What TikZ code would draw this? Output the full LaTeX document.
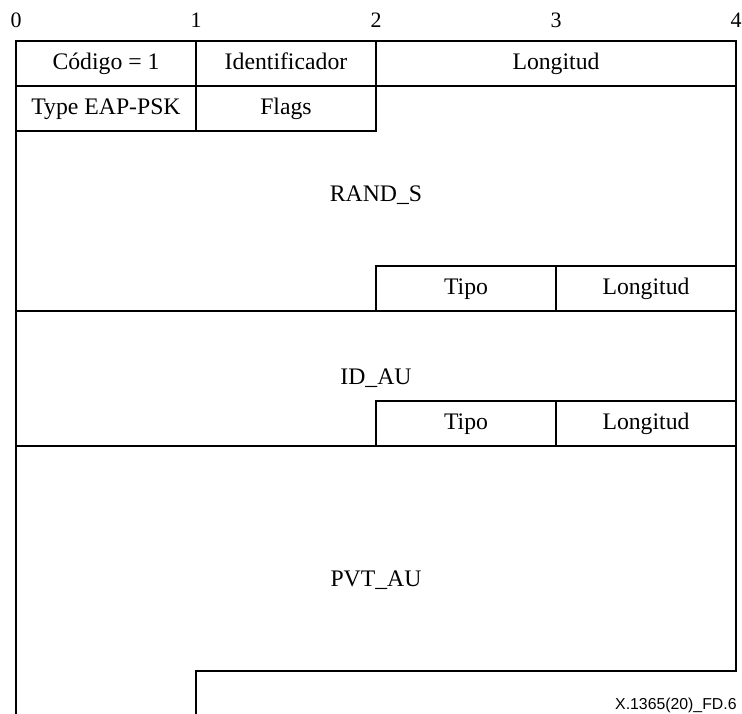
\documentclass[tikz,border=0pt]{standalone}
\usepackage{fontspec}
\setmainfont{Liberation Serif}
\newfontfamily\figsans{Liberation Sans}
\begin{document}
\begin{tikzpicture}[
  x=3.6cm, y=-0.9cm,
  %% Field labels inside the frame (same box height, so descenders don't shift them)
  field/.style={font=\fontsize{13.5}{16}\selectfont, inner sep=0pt,
                text height=9.4pt, text depth=3pt},
  %% Octet ruler above the frame
  ruler/.style={font=\fontsize{12.5}{15}\selectfont, inner sep=0pt},
  %% Figure identifier, bottom right
  figid/.style={font=\figsans\fontsize{9}{11}\selectfont, inner sep=0pt, anchor=east},
  %% Frame and field lines
  frame/.style={line width=0.8pt}
]
\useasboundingbox (-0.32cm,0.82cm) rectangle (14.52cm,-13.44cm);

%% ── Octet ruler: 0 … 4 over the column lines ─────────────────────────
\foreach \n in {0,...,4}
  \node[ruler] (oct\n) at (\n,-0.47) {\n};

%% ── Outer frame: open at the bottom, stepped in at column 1 ──────────
\draw[frame] (0,14.95) -- (0,0) -- (4,0) -- (4,14) -- (1,14) -- (1,14.95);

%% ── Header: two rows of fields ───────────────────────────────────────
\draw[frame] (0,1) -- (4,1);
\draw[frame] (0,2) -- (2,2) -- (2,0);
\draw[frame] (1,0) -- (1,2);

\node[field] (codigo) at (0.5,0.5) {Código = 1};
\node[field] (ident)  at (1.5,0.5) {Identificador};
\node[field] (longh)  at (3,0.5)   {Longitud};
\node[field] (type)   at (0.5,1.5) {Type EAP-PSK};
\node[field] (flags)  at (1.5,1.5) {Flags};

%% ── RAND_S with its Tipo / Longitud trailer ──────────────────────────
\node[field] (rands) at (2,3.45) {RAND\_S};
\draw[frame] (2,6) -- (2,5) -- (4,5);
\draw[frame] (3,5) -- (3,6);
\draw[frame] (0,6) -- (4,6);
\node[field] (tipoa) at (2.5,5.5) {Tipo};
\node[field] (longa) at (3.5,5.5) {Longitud};

%% ── ID_AU with its Tipo / Longitud trailer ───────────────────────────
\node[field] (idau) at (2,7.5) {ID\_AU};
\draw[frame] (2,9) -- (2,8) -- (4,8);
\draw[frame] (3,8) -- (3,9);
\draw[frame] (0,9) -- (4,9);
\node[field] (tipob) at (2.5,8.5) {Tipo};
\node[field] (longb) at (3.5,8.5) {Longitud};

%% ── PVT_AU ───────────────────────────────────────────────────────────
\node[field] (pvtau) at (2,12) {PVT\_AU};

\node[figid] (figlabel) at (4.005,14.76) {X.1365(20)\_FD.6};

\end{tikzpicture}
\end{document}
